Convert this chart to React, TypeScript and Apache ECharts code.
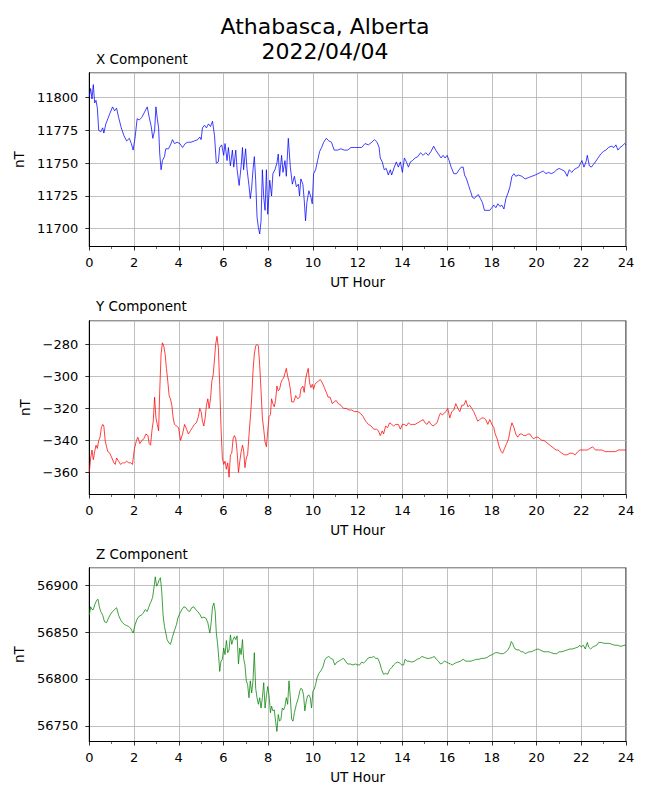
import React, { useEffect, useRef } from "react";
import * as echarts from "echarts";

const TITLE = "Athabasca, Alberta\n2022/04/04";
const PANEL_TITLES = ["X Component", "Y Component", "Z Component"];
const X_LABEL = "UT Hour";
const Y_LABEL = "nT";
const HOUR_TICKS = [0, 24, 2];

const X_DATA: number[][] = [
  [0, 11801], [0.06, 11807], [0.12, 11799], [0.18, 11810], [0.24, 11796], [0.3, 11798], [0.36, 11792], [0.42, 11775],
  [0.51, 11774], [0.6, 11777], [0.65, 11773], [0.74, 11780], [0.83, 11784], [0.92, 11788], [1.04, 11793], [1.13, 11790],
  [1.22, 11792], [1.31, 11785], [1.43, 11777], [1.55, 11771], [1.67, 11767], [1.79, 11769], [1.88, 11765], [1.96, 11760],
  [2.05, 11770], [2.14, 11784], [2.23, 11783], [2.35, 11785], [2.47, 11789], [2.59, 11793], [2.68, 11785], [2.77, 11778],
  [2.84, 11769], [2.92, 11775], [2.98, 11793], [3.04, 11784], [3.1, 11777], [3.15, 11757], [3.21, 11745], [3.27, 11752],
  [3.36, 11755], [3.42, 11761], [3.54, 11761], [3.63, 11764], [3.72, 11768], [3.81, 11765], [3.93, 11766], [4.05, 11765],
  [4.17, 11762], [4.29, 11765], [4.4, 11766], [4.55, 11766], [4.7, 11767], [4.85, 11768], [4.94, 11770], [5, 11768],
  [5.06, 11777], [5.15, 11779], [5.24, 11777], [5.33, 11780], [5.42, 11778], [5.51, 11782], [5.6, 11771], [5.68, 11750],
  [5.77, 11751], [5.83, 11762], [5.92, 11764], [6.01, 11756], [6.07, 11765], [6.16, 11752], [6.22, 11762], [6.31, 11748],
  [6.4, 11760], [6.46, 11747], [6.55, 11760], [6.61, 11745], [6.7, 11733], [6.79, 11748], [6.85, 11762], [6.9, 11745],
  [6.99, 11761], [7.05, 11746], [7.14, 11733], [7.2, 11723], [7.26, 11731], [7.32, 11745], [7.38, 11755], [7.44, 11737],
  [7.5, 11709], [7.56, 11701], [7.62, 11696], [7.68, 11706], [7.74, 11745], [7.8, 11724], [7.86, 11714], [7.92, 11745],
  [7.98, 11711], [8.07, 11737], [8.15, 11725], [8.21, 11742], [8.3, 11745], [8.39, 11750], [8.45, 11757], [8.51, 11740],
  [8.6, 11756], [8.66, 11743], [8.75, 11752], [8.81, 11740], [8.9, 11769], [8.99, 11747], [9.08, 11734], [9.17, 11740],
  [9.26, 11732], [9.35, 11734], [9.4, 11725], [9.46, 11738], [9.55, 11734], [9.61, 11722], [9.67, 11706], [9.73, 11720],
  [9.82, 11729], [9.91, 11724], [9.97, 11719], [10.03, 11742], [10.12, 11745], [10.21, 11752], [10.3, 11759], [10.39, 11762],
  [10.48, 11766], [10.6, 11769], [10.71, 11767], [10.83, 11766], [10.95, 11760], [11.1, 11760], [11.25, 11761], [11.4, 11760],
  [11.55, 11760], [11.7, 11762], [11.85, 11762], [12, 11762], [12.18, 11762], [12.33, 11765], [12.48, 11764], [12.63, 11766],
  [12.75, 11768], [12.87, 11766], [12.96, 11762], [13.01, 11754], [13.1, 11751], [13.19, 11745], [13.28, 11746], [13.37, 11741],
  [13.46, 11745], [13.52, 11741], [13.64, 11747], [13.73, 11751], [13.82, 11747], [13.91, 11751], [14, 11743], [14.09, 11754],
  [14.18, 11751], [14.27, 11747], [14.36, 11751], [14.45, 11752], [14.57, 11754], [14.69, 11755], [14.81, 11758], [14.93, 11756],
  [15.04, 11758], [15.16, 11756], [15.28, 11759], [15.4, 11763], [15.49, 11760], [15.61, 11757], [15.73, 11754], [15.82, 11756],
  [15.91, 11754], [16, 11756], [16.09, 11752], [16.18, 11747], [16.3, 11742], [16.42, 11742], [16.54, 11745], [16.63, 11747],
  [16.72, 11747], [16.78, 11741], [16.87, 11738], [16.96, 11733], [17.04, 11729], [17.13, 11724], [17.22, 11723], [17.31, 11725],
  [17.4, 11726], [17.49, 11723], [17.58, 11720], [17.67, 11714], [17.79, 11714], [17.91, 11714], [18, 11716], [18.09, 11718],
  [18.18, 11716], [18.27, 11719], [18.36, 11717], [18.45, 11718], [18.54, 11715], [18.63, 11723], [18.72, 11727], [18.81, 11732],
  [18.9, 11740], [18.99, 11742], [19.07, 11740], [19.19, 11741], [19.34, 11740], [19.49, 11738], [19.64, 11739], [19.79, 11740],
  [19.94, 11741], [20.06, 11742], [20.18, 11743], [20.3, 11744], [20.42, 11742], [20.54, 11743], [20.66, 11742], [20.78, 11743],
  [20.9, 11745], [21.01, 11746], [21.13, 11745], [21.25, 11744], [21.37, 11740], [21.46, 11745], [21.58, 11743], [21.67, 11745],
  [21.76, 11746], [21.88, 11747], [21.97, 11750], [22.03, 11752], [22.12, 11747], [22.21, 11751], [22.27, 11756], [22.36, 11748],
  [22.45, 11747], [22.54, 11749], [22.63, 11751], [22.75, 11754], [22.87, 11757], [22.99, 11759], [23.1, 11760], [23.22, 11762],
  [23.34, 11763], [23.46, 11762], [23.55, 11764], [23.64, 11760], [23.73, 11762], [23.82, 11763], [23.94, 11765], [24, 11764],
];

const Y_DATA: number[][] = [
  [0, -360], [0.06, -351], [0.12, -346], [0.18, -352], [0.24, -347], [0.3, -343], [0.36, -345], [0.42, -340],
  [0.48, -338], [0.54, -332], [0.6, -330], [0.65, -331], [0.71, -340], [0.77, -344], [0.83, -347], [0.92, -348],
  [1.01, -351], [1.1, -354], [1.16, -355], [1.22, -351], [1.31, -353], [1.4, -355], [1.49, -354], [1.58, -354],
  [1.67, -353], [1.76, -354], [1.85, -354], [1.93, -355], [2.02, -345], [2.11, -340], [2.17, -338], [2.26, -342],
  [2.35, -340], [2.44, -339], [2.53, -336], [2.62, -337], [2.68, -342], [2.74, -343], [2.8, -334], [2.86, -328],
  [2.92, -313], [2.98, -326], [3.04, -330], [3.1, -334], [3.15, -309], [3.21, -286], [3.27, -279], [3.33, -281],
  [3.39, -286], [3.45, -295], [3.51, -303], [3.57, -312], [3.63, -314], [3.69, -318], [3.75, -326], [3.81, -330],
  [3.9, -331], [3.99, -332], [4.08, -340], [4.17, -336], [4.26, -330], [4.35, -333], [4.43, -336], [4.52, -334],
  [4.61, -332], [4.7, -330], [4.79, -329], [4.88, -325], [4.94, -320], [5, -322], [5.06, -328], [5.12, -331],
  [5.18, -326], [5.24, -318], [5.3, -314], [5.36, -320], [5.42, -314], [5.48, -303], [5.54, -299], [5.6, -289],
  [5.65, -280], [5.71, -275], [5.77, -282], [5.83, -305], [5.89, -332], [5.95, -351], [6.01, -355], [6.07, -353],
  [6.13, -358], [6.19, -354], [6.25, -363], [6.31, -349], [6.37, -348], [6.43, -339], [6.49, -337], [6.55, -339],
  [6.61, -347], [6.67, -360], [6.73, -353], [6.79, -347], [6.85, -343], [6.9, -346], [6.96, -357], [7.02, -351],
  [7.08, -349], [7.14, -337], [7.2, -326], [7.26, -314], [7.32, -297], [7.38, -286], [7.44, -281], [7.5, -280],
  [7.56, -281], [7.62, -293], [7.68, -309], [7.74, -326], [7.8, -333], [7.86, -341], [7.92, -344], [7.98, -334],
  [8.04, -325], [8.1, -324], [8.15, -314], [8.21, -317], [8.27, -319], [8.33, -315], [8.39, -306], [8.45, -309],
  [8.51, -308], [8.57, -304], [8.63, -302], [8.69, -301], [8.75, -298], [8.81, -295], [8.87, -300], [8.93, -303],
  [8.99, -308], [9.05, -316], [9.14, -316], [9.23, -312], [9.32, -314], [9.41, -313], [9.46, -308], [9.55, -306],
  [9.61, -310], [9.67, -302], [9.73, -298], [9.79, -295], [9.85, -304], [9.91, -307], [9.97, -305], [10.03, -308],
  [10.09, -305], [10.15, -304], [10.24, -303], [10.33, -302], [10.42, -304], [10.51, -307], [10.6, -310], [10.68, -313],
  [10.77, -313], [10.86, -317], [10.95, -316], [11.04, -315], [11.13, -317], [11.25, -318], [11.37, -320], [11.49, -320],
  [11.61, -321], [11.73, -321], [11.85, -322], [12, -322], [12.12, -323], [12.24, -325], [12.36, -328], [12.48, -330],
  [12.6, -331], [12.72, -333], [12.84, -333], [12.93, -334], [13.01, -337], [13.1, -334], [13.16, -336], [13.25, -331],
  [13.34, -332], [13.43, -329], [13.52, -330], [13.61, -331], [13.7, -330], [13.82, -330], [13.91, -333], [14, -330],
  [14.09, -330], [14.18, -331], [14.27, -329], [14.36, -330], [14.45, -330], [14.57, -330], [14.69, -329], [14.81, -328],
  [14.93, -327], [15.01, -329], [15.1, -330], [15.19, -328], [15.28, -330], [15.37, -331], [15.46, -330], [15.55, -329],
  [15.64, -325], [15.7, -323], [15.79, -324], [15.88, -323], [15.94, -322], [16.03, -320], [16.12, -326], [16.21, -322],
  [16.3, -321], [16.39, -317], [16.48, -320], [16.57, -322], [16.66, -318], [16.75, -318], [16.84, -315], [16.93, -319],
  [17.01, -318], [17.1, -320], [17.19, -322], [17.28, -325], [17.37, -328], [17.46, -327], [17.55, -326], [17.64, -326],
  [17.73, -327], [17.82, -330], [17.91, -327], [18, -330], [18.09, -332], [18.15, -336], [18.24, -339], [18.33, -344],
  [18.42, -347], [18.48, -348], [18.57, -345], [18.66, -342], [18.75, -339], [18.84, -332], [18.9, -329], [18.99, -332],
  [19.07, -336], [19.16, -338], [19.25, -336], [19.34, -336], [19.43, -337], [19.52, -337], [19.61, -336], [19.7, -336],
  [19.79, -338], [19.88, -339], [19.97, -338], [20.06, -338], [20.15, -339], [20.24, -340], [20.33, -340], [20.42, -341],
  [20.51, -342], [20.6, -343], [20.69, -344], [20.78, -345], [20.87, -346], [20.96, -346], [21.04, -347], [21.13, -348],
  [21.25, -349], [21.37, -349], [21.49, -348], [21.61, -348], [21.73, -349], [21.85, -347], [21.94, -346], [22.03, -346],
  [22.15, -346], [22.27, -346], [22.39, -345], [22.51, -344], [22.63, -346], [22.78, -346], [22.93, -346], [23.07, -347],
  [23.22, -347], [23.37, -347], [23.52, -347], [23.67, -346], [23.82, -346], [24, -346],
];

const Z_DATA: number[][] = [
  [0, 56868], [0.06, 56877], [0.12, 56874], [0.18, 56874], [0.24, 56879], [0.33, 56884], [0.39, 56885], [0.45, 56877],
  [0.51, 56872], [0.6, 56868], [0.68, 56861], [0.77, 56860], [0.86, 56865], [0.95, 56869], [1.04, 56872], [1.13, 56874],
  [1.22, 56876], [1.31, 56868], [1.4, 56863], [1.49, 56860], [1.58, 56858], [1.67, 56857], [1.76, 56856], [1.85, 56854],
  [1.96, 56849], [2.05, 56858], [2.14, 56864], [2.23, 56867], [2.32, 56868], [2.41, 56870], [2.5, 56874], [2.59, 56872],
  [2.65, 56876], [2.71, 56880], [2.77, 56883], [2.83, 56887], [2.89, 56897], [2.95, 56909], [3.01, 56899], [3.07, 56902],
  [3.13, 56906], [3.18, 56908], [3.24, 56893], [3.3, 56868], [3.36, 56856], [3.42, 56849], [3.48, 56842], [3.57, 56838],
  [3.63, 56837], [3.72, 56845], [3.81, 56852], [3.9, 56858], [3.96, 56865], [4.05, 56870], [4.14, 56874], [4.23, 56877],
  [4.32, 56876], [4.4, 56873], [4.49, 56872], [4.58, 56876], [4.67, 56877], [4.76, 56874], [4.85, 56872], [4.94, 56869],
  [5.03, 56865], [5.12, 56866], [5.21, 56865], [5.3, 56860], [5.39, 56849], [5.45, 56860], [5.51, 56877], [5.57, 56881],
  [5.63, 56872], [5.68, 56849], [5.74, 56837], [5.8, 56819], [5.83, 56808], [5.89, 56819], [5.95, 56821], [6.01, 56833],
  [6.07, 56826], [6.13, 56841], [6.19, 56828], [6.25, 56831], [6.31, 56847], [6.37, 56837], [6.43, 56842], [6.49, 56845],
  [6.55, 56842], [6.61, 56846], [6.67, 56816], [6.73, 56833], [6.79, 56826], [6.85, 56842], [6.9, 56822], [6.96, 56815],
  [7.02, 56798], [7.08, 56794], [7.14, 56780], [7.2, 56798], [7.26, 56785], [7.32, 56798], [7.38, 56828], [7.44, 56790],
  [7.5, 56780], [7.56, 56773], [7.62, 56780], [7.68, 56769], [7.74, 56780], [7.8, 56796], [7.86, 56769], [7.92, 56782],
  [7.98, 56792], [8.04, 56782], [8.1, 56764], [8.15, 56771], [8.21, 56766], [8.27, 56767], [8.33, 56755], [8.39, 56744],
  [8.45, 56762], [8.51, 56755], [8.57, 56757], [8.63, 56769], [8.69, 56767], [8.75, 56771], [8.81, 56780], [8.87, 56773],
  [8.93, 56798], [8.99, 56780], [9.05, 56757], [9.11, 56755], [9.17, 56764], [9.26, 56773], [9.35, 56780], [9.41, 56787],
  [9.46, 56790], [9.52, 56789], [9.58, 56783], [9.64, 56766], [9.7, 56776], [9.76, 56782], [9.82, 56783], [9.88, 56780],
  [9.94, 56769], [10, 56787], [10.06, 56789], [10.12, 56794], [10.18, 56801], [10.27, 56806], [10.36, 56809], [10.45, 56813],
  [10.54, 56821], [10.63, 56823], [10.71, 56824], [10.8, 56822], [10.89, 56821], [10.98, 56815], [11.07, 56818], [11.16, 56819],
  [11.28, 56821], [11.37, 56822], [11.46, 56819], [11.55, 56816], [11.67, 56816], [11.79, 56815], [11.9, 56816], [12, 56815],
  [12.09, 56815], [12.18, 56818], [12.27, 56817], [12.36, 56819], [12.45, 56822], [12.54, 56823], [12.63, 56823], [12.72, 56824],
  [12.81, 56822], [12.9, 56822], [12.99, 56817], [13.07, 56810], [13.16, 56805], [13.25, 56806], [13.34, 56805], [13.43, 56810],
  [13.52, 56812], [13.61, 56815], [13.7, 56817], [13.79, 56818], [13.88, 56817], [13.97, 56815], [14.06, 56815], [14.12, 56821],
  [14.21, 56819], [14.3, 56819], [14.42, 56818], [14.54, 56819], [14.66, 56821], [14.78, 56822], [14.87, 56824], [14.99, 56823],
  [15.1, 56822], [15.22, 56822], [15.34, 56823], [15.43, 56824], [15.52, 56821], [15.61, 56819], [15.7, 56816], [15.79, 56817],
  [15.88, 56819], [15.97, 56818], [16.06, 56817], [16.15, 56816], [16.24, 56815], [16.36, 56817], [16.48, 56818], [16.6, 56819],
  [16.72, 56821], [16.84, 56819], [16.96, 56819], [17.07, 56819], [17.19, 56820], [17.31, 56821], [17.43, 56821], [17.55, 56822],
  [17.67, 56822], [17.79, 56823], [17.91, 56825], [18.03, 56826], [18.15, 56828], [18.27, 56828], [18.39, 56827], [18.51, 56827],
  [18.63, 56829], [18.72, 56831], [18.81, 56835], [18.87, 56840], [18.93, 56838], [18.99, 56834], [19.04, 56832], [19.13, 56831],
  [19.22, 56831], [19.31, 56829], [19.4, 56829], [19.49, 56827], [19.58, 56828], [19.67, 56829], [19.76, 56829], [19.85, 56830],
  [19.94, 56831], [20.06, 56832], [20.15, 56831], [20.24, 56830], [20.33, 56829], [20.42, 56829], [20.54, 56829], [20.66, 56828],
  [20.78, 56827], [20.9, 56827], [21.01, 56829], [21.13, 56829], [21.25, 56830], [21.37, 56831], [21.49, 56832], [21.61, 56832],
  [21.73, 56833], [21.85, 56834], [21.94, 56836], [22, 56834], [22.09, 56836], [22.18, 56832], [22.27, 56839], [22.33, 56834],
  [22.42, 56832], [22.51, 56834], [22.6, 56835], [22.69, 56836], [22.78, 56839], [22.9, 56839], [23.02, 56838], [23.14, 56838],
  [23.25, 56838], [23.37, 56837], [23.49, 56836], [23.61, 56836], [23.73, 56835], [23.82, 56835], [23.91, 56836], [24, 56836],
];

const SERIES_DATA = [X_DATA, Y_DATA, Z_DATA];
const SERIES_COLORS = ["#0000ff", "#ff0000", "#008000"];
const Y_MIN = [11686.4, -373.8, 56733.3];
const Y_MAX = [11819.1, -265.2, 56918.7];
const Y_STEP = [25, 20, 50];

const FONT = "DejaVu Sans";
const GRID_TOPS = [72.7, 320.7, 567.7];
const GRID_HEIGHT = 173.8;
const NAME_GAPS = [61, 54, 61];
const TITLE_TOPS = [51, 298, 546];

export default function App() {
  const ref = useRef<HTMLDivElement>(null);

  useEffect(() => {
    document.body.style.margin = "0";
    if (!ref.current) return;
    const chart = echarts.init(ref.current, undefined, { renderer: "svg" });

    const grids = GRID_TOPS.map((top) => ({
      left: 89.3,
      right: 24,
      top,
      height: GRID_HEIGHT,
      show: true,
      borderColor: "#000",
      borderWidth: 1,
      backgroundColor: "transparent",
      containLabel: false,
    }));

    const xAxes = GRID_TOPS.map((_, i) => ({
      type: "value",
      gridIndex: i,
      min: HOUR_TICKS[0],
      max: HOUR_TICKS[1],
      interval: HOUR_TICKS[2],
      name: X_LABEL,
      nameLocation: "middle",
      nameGap: 28,
      nameTextStyle: { fontFamily: FONT, fontSize: 13.5, color: "#000" },
      axisLine: { show: true, lineStyle: { color: "#000", width: 1 } },
      axisTick: { show: true, inside: false, length: 4, lineStyle: { color: "#000", width: 0.8 } },
      minorTick: { show: true, splitNumber: 2, length: 2.5, lineStyle: { color: "#000", width: 0.6 } },
      axisLabel: { fontFamily: FONT, fontSize: 13, color: "#000", margin: 9 },
      splitLine: { show: true, lineStyle: { color: "#b0b0b0", width: 0.8 } },
    }));

    const yAxes = GRID_TOPS.map((_, i) => ({
      type: "value",
      gridIndex: i,
      min: Y_MIN[i],
      max: Y_MAX[i],
      minInterval: Y_STEP[i],
      maxInterval: Y_STEP[i],
      name: Y_LABEL,
      nameLocation: "middle",
      nameGap: NAME_GAPS[i],
      nameTextStyle: { fontFamily: FONT, fontSize: 13.5, color: "#000" },
      axisLine: { show: true, lineStyle: { color: "#000", width: 1 } },
      axisTick: {
        show: true,
        inside: false,
        length: 4,
        lineStyle: { color: "#000", width: 0.8 },
      },
      axisLabel: {
        fontFamily: FONT,
        fontSize: 13,
        color: "#000",
        margin: 11,
        showMinLabel: false,
        showMaxLabel: false,
        formatter: (v: number) => {
          const r = Math.round(v);
          if (Math.abs(v - r) > 1e-6 || r % Y_STEP[i] !== 0) return "";
          return String(r).replace("-", "\u2212");
        },
      },
      splitLine: { show: true, lineStyle: { color: "#b0b0b0", width: 0.8 } },
    }));

    const series = SERIES_DATA.map((data, i) => ({
      type: "line",
      xAxisIndex: i,
      yAxisIndex: i,
      data,
      showSymbol: false,
      symbol: "none",
      lineStyle: { color: SERIES_COLORS[i], width: 0.75 },
      itemStyle: { color: SERIES_COLORS[i] },
      clip: true,
      z: 3,
    }));

    const titles = [
      {
        text: TITLE,
        left: "center",
        top: 13.5,
        padding: 0,
        textStyle: { fontFamily: FONT, fontSize: 22, fontWeight: "normal", color: "#000", lineHeight: 25 },
      },
      ...PANEL_TITLES.map((t, i) => ({
        text: t,
        left: 96,
        top: TITLE_TOPS[i],
        padding: 0,
        textStyle: { fontFamily: FONT, fontSize: 13.5, fontWeight: "normal", color: "#000", lineHeight: 16 },
      })),
    ];

    chart.setOption({
      animation: false,
      backgroundColor: "#fff",
      title: titles,
      grid: grids,
      xAxis: xAxes,
      yAxis: yAxes,
      series,
    });

    return () => chart.dispose();
  }, []);

  return <div ref={ref} style={{ width: 650, height: 800 }} />;
}
